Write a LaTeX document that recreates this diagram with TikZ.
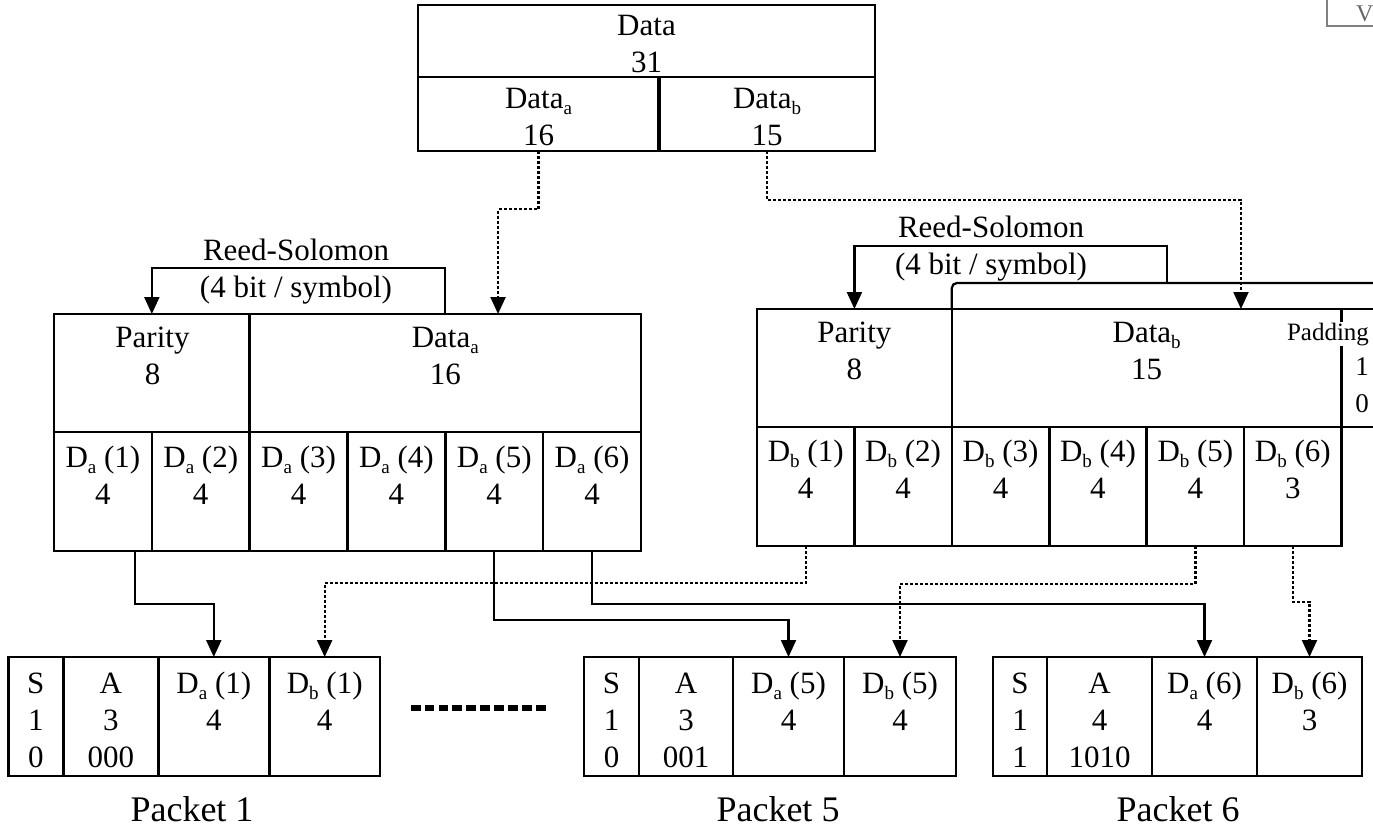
\documentclass[tikz,border=0pt]{standalone}
\usepackage{fontspec}
\setmainfont{Liberation Serif}
\usetikzlibrary{arrows.meta,calc}
% lowered, smaller subscript letter
\newcommand\lowsub[1]{\raisebox{-0.22em}{\fontsize{19}{19}\selectfont #1}}
% \cellat{name}{x}{y}{width}{height}: an empty framed cell, top-left corner at (x,y)
\newcommand\cellat[5]{\node[box, minimum width=#4pt, minimum height=#5pt] (#1) at (#2,#3) {};}

\begin{document}
\begin{tikzpicture}[x=1pt,y=-1pt,
  box/.style={draw, line width=2.6pt, anchor=north west, inner sep=0pt, outer sep=0pt},
  % multi-line labels: placed at the baseline of their last line
  lbl/.style={anchor=base, align=center, inner sep=0pt, font=\fontsize{31}{37}\selectfont},
  link/.style={line width=2.2pt},
  arrowed/.style={-{Triangle[length=17pt,width=15pt]}},
  dotline/.style={line width=2.2pt, dash pattern=on 3pt off 2pt},
]
\useasboundingbox (0,0) rectangle (1373,827);
\clip (0,0) rectangle (1373,827);

% ---- source data word ----
\cellat{topall}{418}{5}{457}{72}
\cellat{ta}{418}{77}{241}{74}
\cellat{tb}{659}{77}{216}{74}
\draw[line width=4pt] (ta.north east) -- (ta.south east);
\node[lbl] (ttopall) at (646.5,72) {Data\\31};
\node[lbl] (tta) at (538.5,145) {Data\lowsub{a}\\16};
\node[lbl] (ttb) at (767,145) {Data\lowsub{b}\\15};

% ---- codeword a ----
\cellat{lpar}{54}{314}{195.67}{118}
\cellat{lda}{249.67}{314}{391.33}{118}
\node[lbl] (tlpar) at (152.5,384) {Parity\\8};
\node[lbl] (tlda) at (445.3,384) {Data\lowsub{a}\\16};
\foreach \i in {1,...,6}{
  \pgfmathsetmacro\xx{54+(\i-1)*97.83}
  \node[box, minimum width=97.83pt, minimum height=119pt] (la\i) at (\xx,432) {};
  \node[lbl] (tla\i) at (\xx+48.9,504) {D\lowsub{a} (\i)\\4};
}

% ---- codeword b ----
\cellat{rpar}{757}{309}{194.83}{118}
\cellat{rdb}{951.83}{309}{389.67}{118}
\cellat{rpad}{1341.5}{309}{41}{118}
\node[lbl] (trpar) at (854.4,379) {Parity\\8};
\node[lbl] (trdb) at (1146.7,379) {Data\lowsub{b}\\15};
\node[lbl, font=\fontsize{25}{35}\selectfont, fill=white, inner sep=1pt] (tpad) at (1328,340) {Padding};
\node[lbl, font=\fontsize{27}{37}\selectfont] (tpadv) at (1362,412) {1\\0};
\foreach \i/\n in {1/4,2/4,3/4,4/4,5/4,6/3}{
  \pgfmathsetmacro\xx{757+(\i-1)*97.42}
  \node[box, minimum width=97.42pt, minimum height=119pt] (rb\i) at (\xx,427) {};
  \node[lbl] (trb\i) at (\xx+48.7,498) {D\lowsub{b} (\i)\\\n};
}

% ---- Reed-Solomon encoding brackets ----
\node[lbl] (rsl) at (296,297) {Reed-Solomon\\(4 bit / symbol)};
\draw[link,arrowed] (lda.north) -- ++(0,-46) -| (lpar.north);
\node[lbl] (rsr) at (991,274) {Reed-Solomon\\(4 bit / symbol)};
\coordinate (brkR) at ([yshift=26pt]rpad.north east);
\draw[link, rounded corners=5pt] (rdb.north west) |- (brkR);
\coordinate (brkM) at ($(rdb.north west |- brkR)!0.5!(brkR)$);
\draw[link,arrowed] (brkM) -- ++(0,-37) -| (rpar.north);

% ---- split of the data word ----
\draw[dotline,arrowed] (ta.south) -- ++(0,58) -| ([xshift=52.7pt]lda.north);
\draw[dotline,arrowed] (tb.south) -- ++(0,49) -| ([xshift=94.3pt]rdb.north);

% ---- packets ----
\cellat{paS}{8.3}{657}{55}{119}
\cellat{paA}{63.3}{657}{95}{119}
\cellat{paDa}{158.3}{657}{111}{119}
\cellat{paDb}{269.3}{657}{110.7}{119}
\node[lbl] (tpaS) at (35.8,767) {S\\1\\0};
\node[lbl] (tpaA) at (110.8,767) {A\\3\\000};
\node[lbl] (tpaDa) at (213.8,730) {D\lowsub{a} (1)\\4};
\node[lbl] (tpaDb) at (324.7,730) {D\lowsub{b} (1)\\4};

\cellat{pbS}{584}{657}{55}{119}
\cellat{pbA}{639}{657}{94}{119}
\cellat{pbDa}{733}{657}{111}{119}
\cellat{pbDb}{844}{657}{112}{119}
\node[lbl] (tpbS) at (611.5,767) {S\\1\\0};
\node[lbl] (tpbA) at (686,767) {A\\3\\001};
\node[lbl] (tpbDa) at (788.5,730) {D\lowsub{a} (5)\\4};
\node[lbl] (tpbDb) at (900,730) {D\lowsub{b} (5)\\4};

\cellat{pcS}{993}{657}{54}{119}
\cellat{pcA}{1047}{657}{105}{119}
\cellat{pcDa}{1152}{657}{105}{119}
\cellat{pcDb}{1257}{657}{105}{119}
\node[lbl] (tpcS) at (1020,767) {S\\1\\1};
\node[lbl] (tpcA) at (1099.5,767) {A\\4\\1010};
\node[lbl] (tpcDa) at (1204.5,730) {D\lowsub{a} (6)\\4};
\node[lbl] (tpcDb) at (1309.5,730) {D\lowsub{b} (6)\\3};

\node[lbl, font=\fontsize{36}{40}\selectfont] (lab1) at (192,821) {Packet 1};
\node[lbl, font=\fontsize{36}{40}\selectfont] (lab5) at (778,821) {Packet 5};
\node[lbl, font=\fontsize{36}{40}\selectfont] (lab6) at (1178,821) {Packet 6};

% omitted packets
\coordinate (sepL) at (410.7,708);
\coordinate (sepR) at (545.5,708);
\draw[line width=6pt, dash pattern=on 9.8pt off 4.1pt] (sepL) -- (sepR);

% ---- symbols into packets ----
\draw[link,arrowed] ([xshift=32pt]la1.south) -- ++(0,53) -| (paDa.north);
\draw[dotline,arrowed] (rb1.south) -- ++(0,37) -| (paDb.north);
\draw[link,arrowed] (la5.south) -- ++(0,69) -| (pbDa.north);
\draw[link,arrowed] (la6.south) -- ++(0,53) -| (pcDa.north);
\draw[dotline,arrowed] (rb5.south) -- ++(0,38) -| (pbDb.north);
\draw[dotline,arrowed] (rb6.south) -- ++(0,56) -| (pcDb.north);

% ---- corner tab ----
\node[draw=gray, line width=2pt, anchor=south west, minimum width=80pt, minimum height=40pt, inner sep=0pt] (vbox) at (1326,27) {};
\node[anchor=base west, text=gray!80!black, font=\fontsize{24}{24}\selectfont, inner sep=0pt] (vtxt) at (1356,21) {V};
\end{tikzpicture}
\end{document}
